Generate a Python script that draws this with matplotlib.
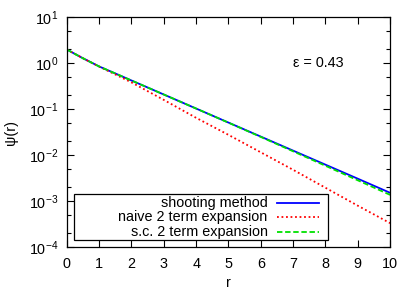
import matplotlib
matplotlib.use("Agg")
import matplotlib.pyplot as plt
from matplotlib.lines import Line2D
from matplotlib.patches import Rectangle
from matplotlib.ticker import LogLocator, NullFormatter, MultipleLocator
import numpy as np

plt.rcParams["font.family"] = ["Liberation Sans", "DejaVu Sans"]
plt.rcParams["mathtext.fontset"] = "custom"
plt.rcParams["mathtext.rm"] = "Liberation Sans"
plt.rcParams["mathtext.it"] = "Liberation Sans"

# -- Data (log10 of psi) -----------------------------------------------------
r = [0, 0.5, 1, 2, 3, 4, 5, 6, 7, 8, 9, 10]
log_shooting = [0.295, 0.105, -0.073, -0.378, -0.683, -0.988, -1.293,
                -1.598, -1.903, -2.208, -2.513, -2.82]
log_naive = [0.295, 0.105, -0.075, -0.42, -0.80, -1.19, -1.56,
             -1.94, -2.32, -2.71, -3.10, -3.48]
log_sc = [0.295, 0.105, -0.073, -0.378, -0.683, -0.988, -1.295,
          -1.605, -1.918, -2.232, -2.548, -2.865]

labels = ["shooting method", "naive 2 term expansion", "s.c. 2 term expansion"]
colors = ["#0000ff", "#ff0000", "#00e000"]
styles = ["-", (0, (1, 1.5)), (0, (3, 1.5))]

psi = [10 ** np.array(v) for v in (log_shooting, log_naive, log_sc)]

FS = 10.4

fig = plt.figure(figsize=(4.15, 2.9), dpi=100)
ax = fig.add_axes([0.161, 0.148, 0.779, 0.793])

for y, c, ls in zip(psi, colors, styles):
    ax.plot(r, y, color=c, ls=ls, lw=1.3)

ax.set_yscale("log")
ax.set_xlim(0, 10)
ax.set_ylim(1e-4, 1e1)
ax.xaxis.set_major_locator(MultipleLocator(1))
ax.yaxis.set_major_locator(LogLocator(base=10, numticks=10))
ax.yaxis.set_minor_locator(LogLocator(base=10, subs=(2, 5), numticks=10))
ax.yaxis.set_minor_formatter(NullFormatter())
ax.tick_params(which="both", direction="in", top=True, right=True,
               labelsize=FS, width=0.8)
ax.tick_params(which="major", length=5)
ax.tick_params(which="minor", length=3)
ax.tick_params(axis="x", pad=7)
ax.tick_params(axis="y", pad=6)
for s in ax.spines.values():
    s.set_linewidth(0.9)

ax.set_xlabel("r", fontsize=FS, labelpad=4)
ax.set_ylabel("ψ(r)", fontsize=FS, labelpad=8)

ax.text(7.0, 1.0, "ε = 0.43", fontsize=FS, ha="left", va="center")

# gnuplot-style legend: text right-aligned, sample line on the right
ax.add_patch(Rectangle((0.022, 0.030), 0.786, 0.200, transform=ax.transAxes,
                       facecolor="white", edgecolor="black", lw=0.9, zorder=5))
row_y = [0.193, 0.130, 0.067]
for lab, c, ls, yy in zip(labels, colors, styles, row_y):
    ax.text(0.621, yy, lab, transform=ax.transAxes, ha="right", va="center",
            fontsize=FS, zorder=6)
    ax.add_line(Line2D([0.649, 0.781], [yy, yy], transform=ax.transAxes,
                       color=c, ls=ls, lw=1.3, zorder=6))

fig.savefig("out.png", dpi=100)
